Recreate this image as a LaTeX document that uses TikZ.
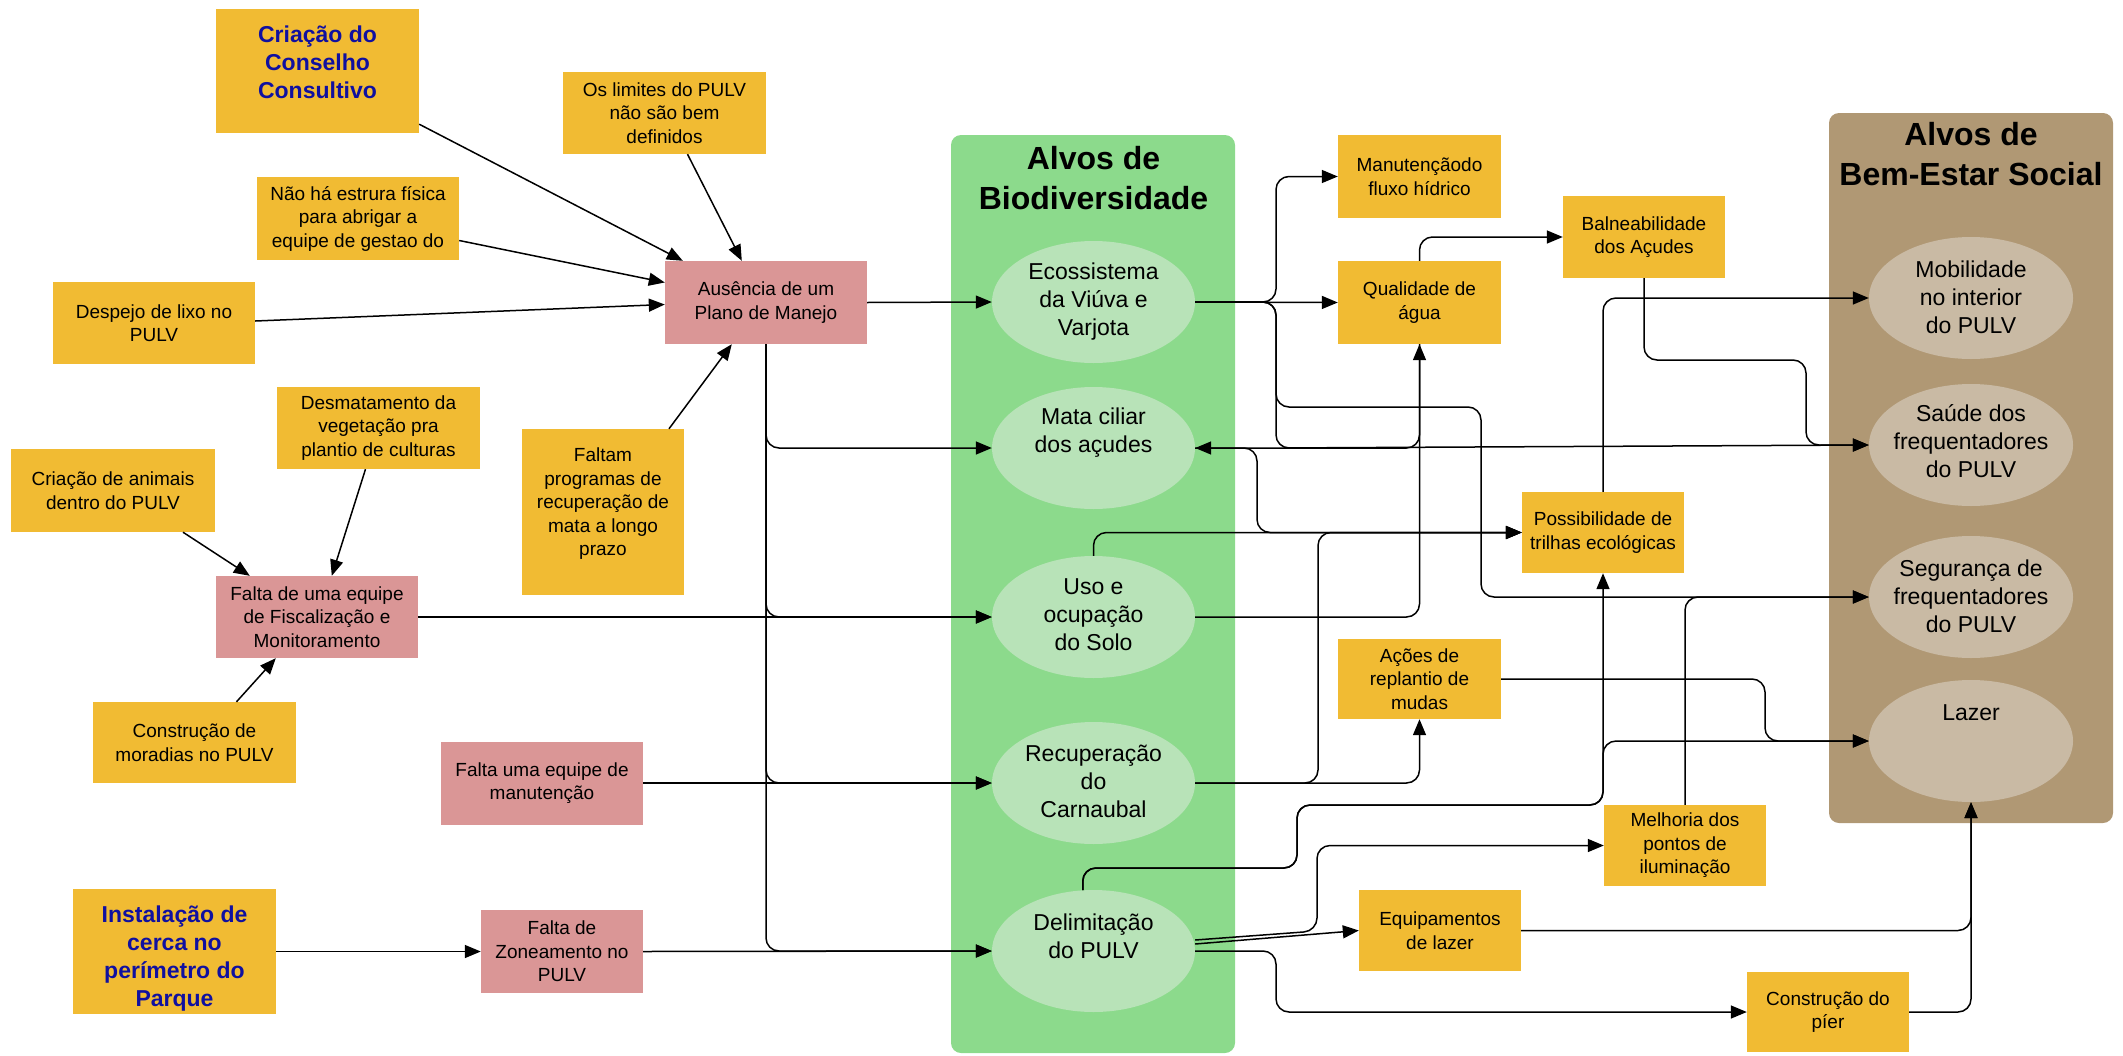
\documentclass[tikz,border=0pt]{standalone}
\usepackage{fontspec}
\setmainfont{Liberation Sans}
\usetikzlibrary{arrows.meta,shapes.geometric,calc}
\definecolor{cYel}{RGB}{241,187,51}
\definecolor{cPink}{RGB}{218,150,150}
\definecolor{cGreen}{RGB}{140,218,140}
\definecolor{cGel}{RGB}{184,227,184}
\definecolor{cBrown}{RGB}{176,152,116}
\definecolor{cBel}{RGB}{201,186,164}
\definecolor{cBlue}{RGB}{16,16,160}
\begin{document}
\begin{tikzpicture}[x=1pt,y=-1pt,
  txt/.style={font=\fontsize{19}{23.5}\selectfont, align=center, text=black},
  yb/.style n args={2}{txt, rectangle, fill=cYel, minimum width=#1, minimum height=#2, inner sep=0pt},
  pb/.style n args={2}{txt, rectangle, fill=cPink, minimum width=#1, minimum height=#2, inner sep=0pt},
  bluettl/.style={font=\fontsize{23}{28}\selectfont\bfseries, text=cBlue, align=center},
  gel/.style={ellipse, fill=cGel, minimum width=203pt, minimum height=122pt, inner sep=0pt},
  bel/.style={ellipse, fill=cBel, minimum width=204pt, minimum height=122pt, inner sep=0pt},
  etx/.style={font=\fontsize{23}{28}\selectfont, align=center, text=black},
  ttl/.style={font=\fontsize{32}{40}\selectfont\bfseries, align=center, text=black},
  arr/.style={line width=1.5pt, -{Triangle[length=16pt,width=13pt]}, rounded corners=13pt},
]
\useasboundingbox (0,0) rectangle (2123,1055);
% containers
\fill[cGreen, rounded corners=10pt] (951,135) rectangle (1235,1053);
\fill[cBrown, rounded corners=10pt] (1829,113) rectangle (2113,823);
\node[ttl] (tbio) at (1093.5,178) {Alvos de\\Biodiversidade};
\node[ttl] (tbem) at (1971,154) {Alvos de\\Bem-Estar Social};

% left boxes
\node[yb={203}{124}] (criacao) at (317.5,71) {};
\node[bluettl] (criacaot) at (317.5,62) {Criação do\\Conselho\\Consultivo};
\node[yb={203}{82}] (limites) at (664.5,113) {Os limites do PULV\\não são bem\\definidos};
\node[yb={202}{83}] (naoha) at (358,218.5) {Não há estrura física\\para abrigar a\\equipe de gestao do};
\node[yb={202}{82}] (despejo) at (154,323) {Despejo de lixo no\\PULV};
\node[pb={202}{83}] (aus) at (766,302.5) {Ausência de um\\Plano de Manejo};
\node[yb={162}{166}] (faltam) at (603,512) {};
\node[txt] (faltamt) at (603,504) {Faltam\\programas de\\recuperação de\\mata a longo\\prazo};
\node[yb={203}{82}] (desmat) at (378.5,428) {Desmatamento da\\vegetação pra\\plantio de culturas};
\node[yb={204}{83}] (animais) at (113,490.5) {Criação de animais\\dentro do PULV};
\node[pb={202}{82}] (fisc) at (317,617) {Falta de uma equipe\\de Fiscalização e\\Monitoramento};
\node[yb={203}{81}] (moradias) at (194.5,742.5) {Construção de\\moradias no PULV};
\node[pb={202}{83}] (manut) at (542,783) {Falta uma equipe de\\manutenção};
\node[yb={203}{125}] (instal) at (174.5,951.5) {};
\node[bluettl] (instalt) at (174.5,959) {Instalação de\\cerca no\\perímetro do\\Parque};
\node[pb={162}{83}] (zone) at (562,951.5) {Falta de\\Zoneamento no\\PULV};

% biodiversity ellipses
\node[gel] (eco) at (1093.5,302) {};
\node[gel] (mata) at (1093.5,448) {};
\node[gel] (uso) at (1093.5,617) {};
\node[gel] (recup) at (1093.5,783) {};
\node[gel] (delim) at (1093.5,951) {};
\node[etx] (ecot) at (1093.5,302) {Ecossistema\\da Viúva e\\Varjota};
\node[etx] (matat) at (1093.5,433) {Mata ciliar\\dos açudes};
\node[etx] (usot) at (1093.5,615) {Uso e\\ocupação\\do Solo};
\node[etx] (recupt) at (1093.5,781) {Recuperação\\do\\Carnaubal};
\node[etx] (delimt) at (1093.5,936) {Delimitação\\do PULV};

% right boxes
\node[yb={163}{83}] (manfluxo) at (1419.5,176.5) {Manutençãodo\\fluxo hídrico};
\node[yb={163}{83}] (qual) at (1419.5,302.5) {Qualidade de\\água};
\node[yb={162}{82}] (balne) at (1644,237) {Balneabilidade\\dos Açudes};
\node[yb={162}{81}] (possib) at (1603,532.5) {Possibilidade de\\trilhas ecológicas};
\node[yb={163}{80}] (acoes) at (1419.5,679) {Ações de\\replantio de\\mudas};
\node[yb={162}{81}] (melhoria) at (1685,845.5) {Melhoria dos\\pontos de\\iluminação};
\node[yb={162}{81}] (equip) at (1440,930.5) {Equipamentos\\de lazer};
\node[yb={162}{80}] (pier) at (1828,1012) {Construção do\\píer};

% social ellipses
\node[bel] (mob) at (1971,298) {};
\node[bel] (saude) at (1971,445) {};
\node[bel] (seg) at (1971,597) {};
\node[bel] (lazer) at (1971,741) {};
\node[etx] (mobt) at (1971,297) {Mobilidade\\no interior\\do PULV};
\node[etx] (saudet) at (1971,441) {Saúde dos\\frequentadores\\do PULV};
\node[etx] (segt) at (1971,596) {Segurança de\\frequentadores\\do PULV};
\node[etx] (lazert) at (1971,713) {Lazer};

% left arrows
\draw[arr] ($(criacao.south east)+(0,-9)$) -- ($(aus.north west)+(18,0)$);
\draw[arr] ($(limites.south)+(23,0)$) -- ($(aus.north west)+(77,0)$);
\draw[arr] ($(naoha.east)+(0,22)$) -- ($(aus.west)+(0,-20)$);
\draw[arr] ($(despejo.east)+(0,-2)$) -- ($(aus.west)+(0,2)$);
\draw[arr] ($(faltam.north)+(66,0)$) -- ($(aus.south west)+(67,0)$);
\draw[arr] ($(animais.south)+(70,0)$) -- ($(fisc.north west)+(34,0)$);
\draw[arr] ($(desmat.south)+(-13,0)$) -- ($(fisc.north west)+(116,0)$);
\draw[arr] ($(moradias.north)+(42,0)$) -- ($(fisc.south west)+(60,0)$);

% into biodiversity targets
\draw[arr] (aus.east) -- (eco.west);
\draw[arr] (aus.south) |- (mata.west);
\draw[arr] (aus.south) |- (uso.west);
\draw[arr] (aus.south) |- (recup.west);
\draw[arr] (aus.south) |- (delim.west);
\draw[arr] (fisc.east) -- (uso.west);
\draw[arr] (manut.east) -- (recup.west);
\draw[arr] (instal.east) -- (zone.west);
\draw[arr] (zone.east) -- (delim.west);

% right side
\draw[arr] (eco.east) -- (1276,302) |- (manfluxo.west);
\draw[arr] (eco.east) -- (qual.west);
\draw[arr] (eco.east) -- (1276,302) -- (1276,407) -- (1481,407) |- (seg.west);
\draw[arr] (eco.east) -- (1276,302) -- (1276,448) -- (saude.west);
\draw[arr] (qual.south) |- (mata.east);
\draw[arr] (uso.east) -| (qual.south);
\draw[arr] (mata.east) -- (1257,448) |- (possib.west);
\draw[arr] (uso.north) |- (possib.west);
\draw[arr] (recup.east) -- (1318,783) |- (possib.west);
\draw[arr] (recup.east) -| (acoes.south);
\draw[arr] (acoes.east) -- (1765,679) |- (lazer.west);
\draw[arr] (delim.100) |- (1297,868) |- (1603,805) -- (possib.south);
\draw[arr] (delim.100) |- (1297,868) |- (1603,805) |- (lazer.west);
\draw[arr] (possib.north) |- (mob.west);
\draw[arr] (balne.south) |- (1806,360) |- (saude.west);
\draw[arr] (qual.north) |- (balne.west);
\draw[arr] (melhoria.north) |- (seg.west);
\draw[arr] ($(delim.east)+(0,-11)$) -- (1317,931) |- (melhoria.west);
\draw[arr] ($(delim.east)+(0,-7)$) -- (equip.west);
\draw[arr] (equip.east) -| (lazer.south);
\draw[arr] (delim.east) -- (1276,951) |- (pier.west);
\draw[arr] (pier.east) -| (lazer.south);
\end{tikzpicture}
\end{document}
